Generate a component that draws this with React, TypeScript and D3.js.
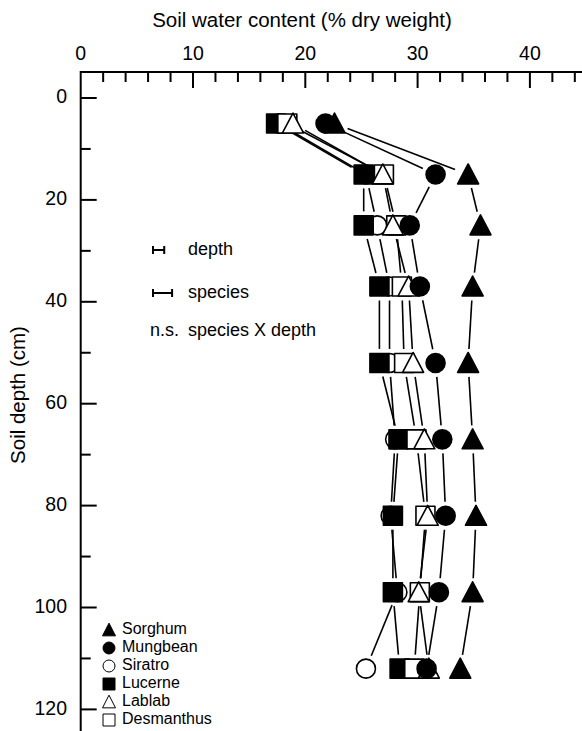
import React, { useRef, useEffect } from "react";
import * as d3 from "d3";

// soil depth of each sampling layer (cm)
const depths = [5, 15, 25, 37, 52, 67, 82, 97, 112];

// soil water content (% dry weight) per species, one value per depth
const sorghum = [22.6, 34.5, 35.6, 34.9, 34.5, 34.9, 35.2, 34.9, 33.8];
const mungbean = [21.8, 31.6, 29.3, 30.2, 31.6, 32.2, 32.5, 31.9, 30.8];
const siratro = [17.6, 25.4, 26.4, 27.5, 27.5, 28.0, 27.6, 28.2, 25.4];
const lucerne = [17.4, 25.2, 25.2, 26.6, 26.6, 28.3, 27.8, 27.8, 28.4];
const lablab = [18.9, 26.9, 27.8, 29.2, 29.6, 30.6, 30.9, 30.1, 31.0];
const desmanthus = [18.4, 27.0, 28.1, 28.6, 28.8, 29.9, 30.7, 30.2, 29.7];

const legendNames = ["Sorghum", "Mungbean", "Siratro", "Lucerne", "Lablab", "Desmanthus"];

// LSD bars (in % units)
const lsdLabels = ["depth", "species"];
const lsdValues = [1.0, 1.7];

const xTicks = [0, 10, 20, 30, 40];
const yTicks = [0, 20, 40, 60, 80, 100, 120];

type Shape = "triangle" | "circle" | "square";

const FONT = "'Liberation Sans', Arial, Helvetica, sans-serif";

const markerPath = (shape: Shape, s: number) => {
    const p = d3.path();
    if (shape === "square") {
        p.rect(-s / 2, -s / 2, s, s);
    } else if (shape === "circle") {
        p.arc(0, 0, s / 2, 0, Math.PI * 2);
    } else {
        const h = s * 0.9;
        p.moveTo(0, -h / 2 - 1);
        p.lineTo(s / 2, h / 2);
        p.lineTo(-s / 2, h / 2);
        p.closePath();
    }
    return p.toString();
};

const App: React.FC = () => {
    const svgRef = useRef<SVGSVGElement>(null);

    useEffect(() => {
        const el = svgRef.current;
        if (!el) return;

        const W = 582;
        const H = 731;
        const x0 = 80.7;
        const y0 = 72;

        const svg = d3.select(el);
        svg.selectAll("*").remove();

        const x = d3.scaleLinear().domain([0, 45]).range([x0, x0 + 45 * 11.23]);
        const y = d3.scaleLinear().domain([0, 125]).range([98, 98 + 125 * 5.095]);

        // axes
        svg.append("line").attr("x1", x0).attr("x2", W).attr("y1", y0).attr("y2", y0)
            .attr("stroke", "#000").attr("stroke-width", 2);
        svg.append("line").attr("x1", x0).attr("x2", x0).attr("y1", y0 - 1).attr("y2", H)
            .attr("stroke", "#000").attr("stroke-width", 2);

        d3.range(2, 46, 2).forEach((v) => {
            const major = v % 10 === 0;
            svg.append("line")
                .attr("x1", x(v)).attr("x2", x(v))
                .attr("y1", y0).attr("y2", y0 + (major ? 16 : 10))
                .attr("stroke", "#000").attr("stroke-width", 2);
        });
        d3.range(0, 126, 10).forEach((v) => {
            const major = v % 20 === 0;
            svg.append("line")
                .attr("x1", x0).attr("x2", x0 + (major ? 16 : 10))
                .attr("y1", y(v)).attr("y2", y(v))
                .attr("stroke", "#000").attr("stroke-width", 2);
        });

        svg.append("g").selectAll("text").data(xTicks).join("text")
            .attr("x", (d) => x(d)).attr("y", 55)
            .attr("text-anchor", "middle").attr("dominant-baseline", "middle")
            .attr("font-family", FONT).attr("font-size", 19.5)
            .text((d) => d);
        svg.append("g").selectAll("text").data(yTicks).join("text")
            .attr("x", 67).attr("y", (d) => y(d))
            .attr("text-anchor", "end").attr("dominant-baseline", "middle")
            .attr("font-family", FONT).attr("font-size", 19.5)
            .text((d) => d);

        svg.append("text")
            .attr("x", 302).attr("y", 22)
            .attr("text-anchor", "middle").attr("dominant-baseline", "middle")
            .attr("font-family", FONT).attr("font-size", 20.5)
            .text("Soil water content (% dry weight)");
        svg.append("text")
            .attr("transform", "translate(20,395) rotate(-90)")
            .attr("text-anchor", "middle").attr("dominant-baseline", "middle")
            .attr("font-family", FONT).attr("font-size", 20.5)
            .text("Soil depth (cm)");

        // series: draw order matters for overlaps
        const series = [
            { name: "Siratro", values: siratro, shape: "circle" as Shape, filled: false },
            { name: "Lucerne", values: lucerne, shape: "square" as Shape, filled: true },
            { name: "Desmanthus", values: desmanthus, shape: "square" as Shape, filled: false },
            { name: "Lablab", values: lablab, shape: "triangle" as Shape, filled: false },
            { name: "Mungbean", values: mungbean, shape: "circle" as Shape, filled: true },
            { name: "Sorghum", values: sorghum, shape: "triangle" as Shape, filled: true },
        ];

        // connecting lines, with a gap around each marker
        const gap = 14;
        const lines = svg.append("g");
        series.forEach((s) => {
            for (let i = 0; i < depths.length - 1; i++) {
                const ax = x(s.values[i]), ay = y(depths[i]);
                const bx = x(s.values[i + 1]), by = y(depths[i + 1]);
                const len = Math.hypot(bx - ax, by - ay);
                if (len <= gap * 2) continue;
                const ux = (bx - ax) / len, uy = (by - ay) / len;
                lines.append("line")
                    .attr("x1", ax + ux * gap).attr("y1", ay + uy * gap)
                    .attr("x2", bx - ux * gap).attr("y2", by - uy * gap)
                    .attr("stroke", "#000").attr("stroke-width", 1.6);
            }
        });

        const sizes: Record<Shape, number> = { square: 19, circle: 19, triangle: 21 };
        series.forEach((s) => {
            svg.append("g").selectAll("path").data(s.values).join("path")
                .attr("transform", (d, i) => `translate(${x(d)},${y(depths[i])})`)
                .attr("d", markerPath(s.shape, sizes[s.shape]))
                .attr("fill", s.filled ? "#000" : "#fff")
                .attr("stroke", "#000").attr("stroke-width", 1.6)
                .attr("stroke-linejoin", "round");
        });

        // LSD annotation
        const lsdY = [250, 293];
        lsdValues.forEach((v, i) => {
            const g = svg.append("g").attr("stroke", "#000").attr("stroke-width", 2);
            const xa = 153;
            const xb = xa + (x(v) - x(0));
            g.append("line").attr("x1", xa).attr("x2", xb).attr("y1", lsdY[i]).attr("y2", lsdY[i]);
            g.append("line").attr("x1", xa).attr("x2", xa).attr("y1", lsdY[i] - 4).attr("y2", lsdY[i] + 4);
            g.append("line").attr("x1", xb).attr("x2", xb).attr("y1", lsdY[i] - 4).attr("y2", lsdY[i] + 4);
            svg.append("text")
                .attr("x", 188).attr("y", lsdY[i])
                .attr("dominant-baseline", "middle")
                .attr("font-family", FONT).attr("font-size", 18)
                .text(lsdLabels[i]);
        });
        svg.append("text")
            .attr("x", 150).attr("y", 331)
            .attr("dominant-baseline", "middle")
            .attr("font-family", FONT).attr("font-size", 18)
            .text("n.s.");
        svg.append("text")
            .attr("x", 188).attr("y", 331)
            .attr("dominant-baseline", "middle")
            .attr("font-family", FONT).attr("font-size", 18)
            .text("species X depth");

        // legend
        const legendStyle: Record<string, { shape: Shape; filled: boolean }> = {};
        series.forEach((s) => (legendStyle[s.name] = { shape: s.shape, filled: s.filled }));
        const legendSize: Record<Shape, number> = { square: 12, circle: 12, triangle: 13 };
        const leg = svg.append("g");
        legendNames.forEach((name, i) => {
            const ly = 630 + i * 18;
            const st = legendStyle[name];
            leg.append("path")
                .attr("transform", `translate(109,${ly})`)
                .attr("d", markerPath(st.shape, legendSize[st.shape]))
                .attr("fill", st.filled ? "#000" : "#fff")
                .attr("stroke", "#000").attr("stroke-width", 1);
            leg.append("text")
                .attr("x", 122).attr("y", ly)
                .attr("dominant-baseline", "middle")
                .attr("font-family", FONT).attr("font-size", 16)
                .text(name);
        });
    }, []);

    return (
        <svg
            ref={svgRef}
            width={582}
            height={731}
            style={{ position: "absolute", left: 0, top: 0, background: "#fff" }}
        />
    );
};

export default App;
